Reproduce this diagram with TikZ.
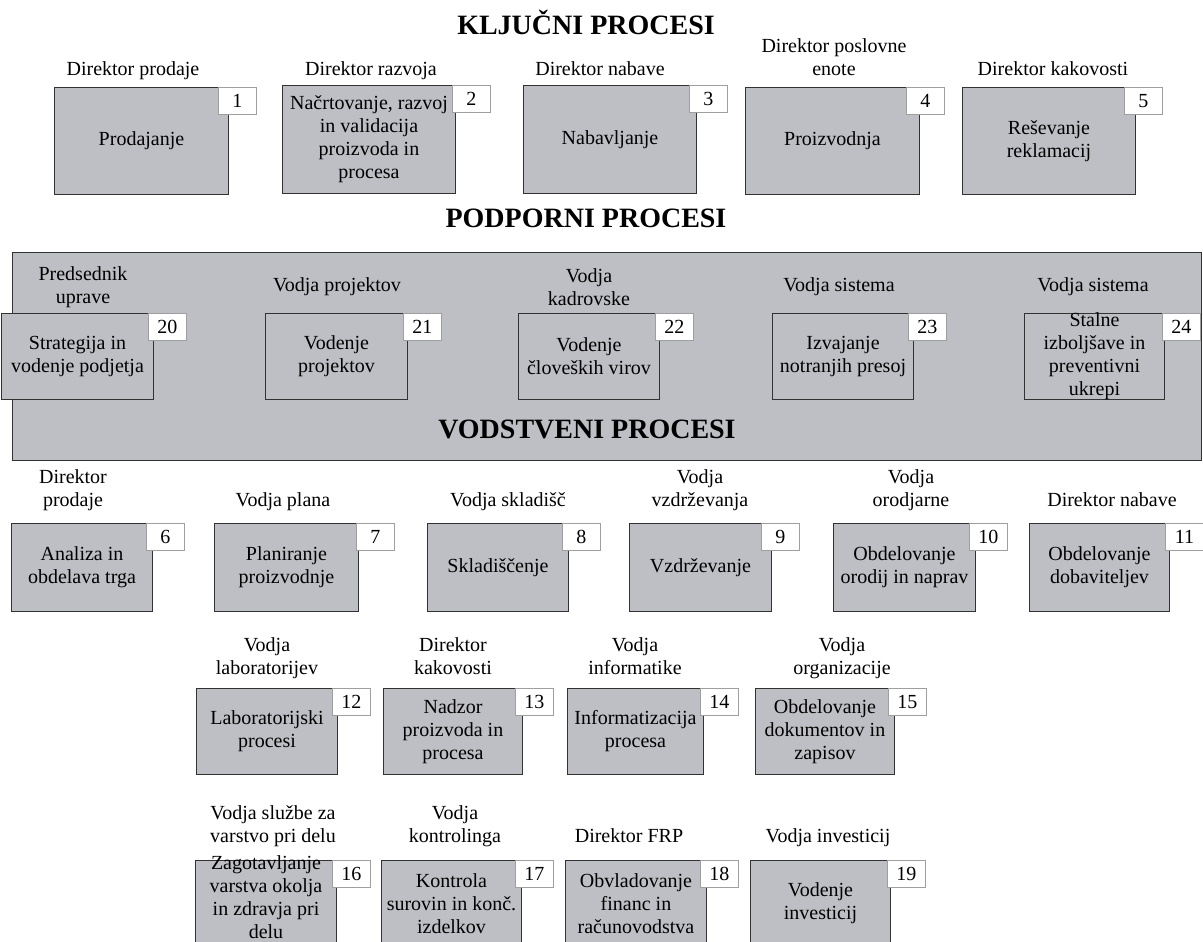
\documentclass[tikz,border=0pt]{standalone}
\usepackage{fontspec}
\setmainfont{Liberation Serif}
\definecolor{boxgrey}{RGB}{190,191,196}
\definecolor{edgegrey}{RGB}{50,50,50}

% process box from its corners: name, x1, y1, x2, y2, text
\newcommand\procnode[6]{%
  \node[procbox, minimum width={(#4)-(#2)}, minimum height={(#5)-(#3)},
        anchor=north west] (#1) at (#2,#3) {};
  \node[boxtext] (#1-txt) at (#1.center) {#6};}

\begin{document}
\begin{tikzpicture}[x=1pt,y=-1pt,
  every node/.style={font=\fontsize{20}{23}\selectfont},
  procbox/.style={draw=edgegrey, line width=1pt, fill=boxgrey, inner sep=0pt},
  boxtext/.style={align=center, inner sep=0pt},
  numbox/.style={draw=gray!75, line width=0.8pt, fill=white,
                 minimum width=38pt, minimum height=27pt, inner sep=0pt,
                 anchor=north west},
  role/.style={align=center, inner sep=0pt, text depth=5pt, anchor=south},
  rolemid/.style={align=center, inner sep=0pt},
  title/.style={font=\fontsize{28}{32}\selectfont\bfseries, anchor=base, inner sep=0pt}]

\useasboundingbox (0,0) rectangle (1203,942);

% ---------- key processes ----------
\node[title] (t1) at (586,35) {KLJUČNI PROCESI};

\node[role] (r1) at (133,81) {Direktor prodaje};
\node[role] (r2) at (371,81) {Direktor razvoja};
\node[role] (r3) at (600,81) {Direktor nabave};
\node[role] (r4) at (834,81) {Direktor poslovne\\enote};
\node[role] (r5) at (1053,81) {Direktor kakovosti};

\procnode{b1}{54}{87}{228}{194}{Prodajanje}
\procnode{b2}{282}{85}{455}{193}{\fontsize{20}{24.5}\selectfont Načrtovanje, razvoj\\in validacija\\proizvoda in\\procesa}
\procnode{b3}{523}{85}{696}{193}{Nabavljanje}
\procnode{b4}{745}{87}{919}{194}{Proizvodnja}
\procnode{b5}{962}{87}{1135}{194}{Reševanje\\reklamacij}

\node[numbox] (n1) at (218,87) {1};
\node[numbox] (n2) at (452,85) {2};
\node[numbox] (n3) at (689,85) {3};
\node[numbox] (n4) at (906,87) {4};
\node[numbox] (n5) at (1124,87) {5};

% ---------- support processes ----------
\node[title] (t2) at (586,227) {PODPORNI PROCESI};

\procnode{panel}{12}{252}{1201}{460}{}

\node[rolemid] (r20) at (83,287) {Predsednik\\uprave};
\node[rolemid] (r21) at (337,287) {Vodja projektov};
\node[rolemid] (r22) at (589,287) {Vodja\\kadrovske};
\node[rolemid] (r23) at (839,287) {Vodja sistema};
\node[rolemid] (r24) at (1093,287) {Vodja sistema};

\procnode{b20}{1}{313}{153}{399}{Strategija in\\vodenje podjetja}
\procnode{b21}{265}{313}{407}{399}{Vodenje\\projektov}
\procnode{b22}{518}{313}{659}{399}{Vodenje\\človeških virov}
\procnode{b23}{772}{313}{913}{399}{Izvajanje\\notranjih presoj}
\procnode{b24}{1024}{313}{1164}{399}{\fontsize{20}{22}\selectfont Stalne\\izboljšave in\\preventivni\\ukrepi}

\node[numbox] (n20) at (148,313) {20};
\node[numbox] (n21) at (403,313) {21};
\node[numbox] (n22) at (655,313) {22};
\node[numbox] (n23) at (908,313) {23};
\node[numbox] (n24) at (1162,313) {24};

% ---------- management processes ----------
\node[title] (t3) at (587,438) {VODSTVENI PROCESI};

\node[role] (r6) at (73,512) {Direktor\\prodaje};
\node[role] (r7) at (283,512) {Vodja plana};
\node[role] (r8) at (508,512) {Vodja skladišč};
\node[role] (r9) at (700,512) {Vodja\\vzdrževanja};
\node[role] (r10) at (911,512) {Vodja\\orodjarne};
\node[role] (r11) at (1112,512) {Direktor nabave};

\procnode{b6}{11}{523}{152}{611}{Analiza in\\obdelava trga}
\procnode{b7}{214}{523}{358}{611}{Planiranje\\proizvodnje}
\procnode{b8}{427}{523}{568}{611}{Skladiščenje}
\procnode{b9}{629}{523}{771}{611}{Vzdrževanje}
\procnode{b10}{833}{523}{975}{611}{Obdelovanje\\orodij in naprav}
\procnode{b11}{1029}{523}{1169}{611}{Obdelovanje\\dobaviteljev}

\node[numbox] (n6) at (146,523) {6};
\node[numbox] (n7) at (356,523) {7};
\node[numbox] (n8) at (562,523) {8};
\node[numbox] (n9) at (761,523) {9};
\node[numbox] (n10) at (969,523) {10};
\node[numbox] (n11) at (1165,523) {11};

\node[role] (r12) at (267,680) {Vodja\\laboratorijev};
\node[role] (r13) at (453,680) {Direktor\\kakovosti};
\node[role] (r14) at (635,680) {Vodja\\informatike};
\node[role] (r15) at (842,680) {Vodja\\organizacije};

\procnode{b12}{196}{688}{337}{774}{Laboratorijski\\procesi}
\procnode{b13}{383}{688}{522}{774}{Nadzor\\proizvoda in\\procesa}
\procnode{b14}{567}{688}{703}{774}{Informatizacija\\procesa}
\procnode{b15}{755}{688}{894}{774}{Obdelovanje\\dokumentov in\\zapisov}

\node[numbox] (n12) at (332,688) {12};
\node[numbox] (n13) at (515,688) {13};
\node[numbox] (n14) at (700,688) {14};
\node[numbox] (n15) at (888,688) {15};

\node[role] (r16) at (273,848) {Vodja službe za\\varstvo pri delu};
\node[role] (r17) at (455,848) {Vodja\\kontrolinga};
\node[role] (r18) at (629,848) {Direktor FRP};
\node[role] (r19) at (828,848) {Vodja investicij};

% box 16 runs past the lower edge; its text starts at the top edge
\procnode{b16}{195}{860}{336}{946}{}
\node[boxtext, anchor=north, yshift=5pt] (b16-txt) at (b16.north)
  {\fontsize{20}{21}\selectfont Zagotavljanje\\varstva okolja\\in zdravja pri\\delu};
\procnode{b17}{381}{860}{521}{946}{Kontrola\\surovin in konč.\\izdelkov}
\procnode{b18}{565}{860}{706}{946}{Obvladovanje\\financ in\\računovodstva}
\procnode{b19}{750}{860}{890}{946}{Vodenje\\investicij}

\node[numbox] (n16) at (332,860) {16};
\node[numbox] (n17) at (515,860) {17};
\node[numbox] (n18) at (700,860) {18};
\node[numbox] (n19) at (887,860) {19};
\end{tikzpicture}
\end{document}
